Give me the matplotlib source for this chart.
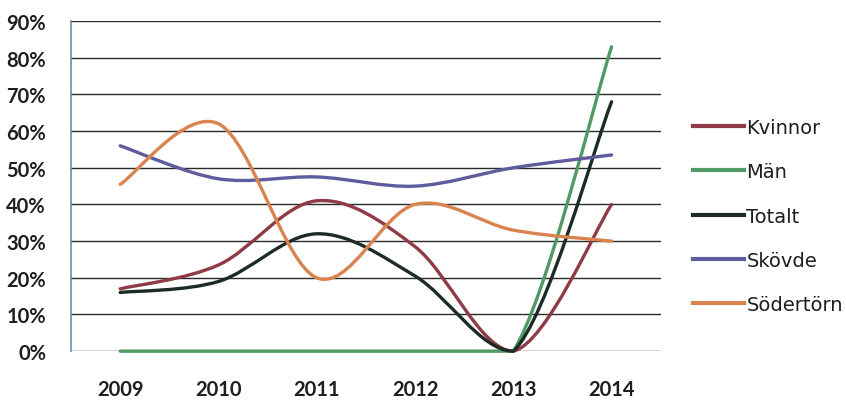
import matplotlib
matplotlib.use("Agg")
import matplotlib.pyplot as plt
from matplotlib.path import Path
from matplotlib.patches import PathPatch
from matplotlib.lines import Line2D
from matplotlib.ticker import FuncFormatter

years = ["2009", "2010", "2011", "2012", "2013", "2014"]

kvinnor   = [0.17, 0.235, 0.41, 0.285, 0.0, 0.40]
man       = [0.0, 0.0, 0.0, 0.0, 0.0, 0.83]
totalt    = [0.16, 0.19, 0.32, 0.205, 0.0, 0.68]
skovde    = [0.56, 0.47, 0.475, 0.45, 0.50, 0.535]
sodertorn = [0.455, 0.62, 0.20, 0.40, 0.33, 0.30]

series = [
    ("Kvinnor",   kvinnor,   "#8e3b45"),
    ("Män",       man,       "#4f9a66"),
    ("Totalt",    totalt,    "#1c2b26"),
    ("Skövde",    skovde,    "#5e5c9c"),
    ("Södertörn", sodertorn, "#d9834f"),
]

plt.rcParams["font.family"] = ["Lato", "DejaVu Sans"]

Y_MIN = 0.0


def smooth_path(xs, ys):
    # Excel-style smoothed line: cubic Bezier with Catmull-Rom control points,
    # control points kept above the axis floor so curves don't dip below 0%
    n = len(xs)
    verts = [(xs[0], ys[0])]
    codes = [Path.MOVETO]
    for i in range(n - 1):
        x0, y0 = (xs[i - 1], ys[i - 1]) if i > 0 else (xs[i], ys[i])
        x3, y3 = (xs[i + 2], ys[i + 2]) if i + 2 < n else (xs[i + 1], ys[i + 1])
        c1 = (xs[i] + (xs[i + 1] - x0) / 6,
              max(Y_MIN, ys[i] + (ys[i + 1] - y0) / 6))
        c2 = (xs[i + 1] - (x3 - xs[i]) / 6,
              max(Y_MIN, ys[i + 1] - (y3 - ys[i]) / 6))
        verts += [c1, c2, (xs[i + 1], ys[i + 1])]
        codes += [Path.CURVE4] * 3
    return Path(verts, codes)


fig = plt.figure(figsize=(8.46, 4.02), dpi=100)
ax = fig.add_axes([0.084, 0.124, 0.697, 0.821])

xs = list(range(len(years)))
handles = []
for name, vals, color in series:
    patch = PathPatch(smooth_path(xs, vals), facecolor="none", edgecolor=color,
                      lw=2.4, capstyle="round", zorder=3, clip_on=False)
    ax.add_patch(patch)
    handles.append(Line2D([], [], color=color, lw=3, label=name))

ax.set_xlim(-0.5, len(years) - 0.5)
ax.set_ylim(Y_MIN, 0.9)
ax.set_yticks([i / 10 for i in range(10)])
ax.yaxis.set_major_formatter(FuncFormatter(lambda v, _: f"{v * 100:.0f}%"))
ax.set_xticks(xs)
ax.set_xticklabels(years)

ax.grid(axis="y", color="#2a2a2a", lw=1)
ax.set_axisbelow(True)
for s in ["top", "right", "bottom"]:
    ax.spines[s].set_visible(False)
ax.spines["left"].set_color("#6f8ea0")
ax.spines["left"].set_linewidth(1.2)

ax.tick_params(axis="both", length=0, labelsize=14.5, colors="#1e1e1e")
ax.tick_params(axis="y", pad=18)
ax.tick_params(axis="x", pad=20)
for lbl in ax.get_xticklabels() + ax.get_yticklabels():
    lbl.set_fontweight("bold")

leg = fig.legend(handles=handles, loc="center left", bbox_to_anchor=(0.799, 0.46),
                 frameon=False, handlelength=2.6, handletextpad=0.12,
                 labelspacing=1.3, prop={"family": "DejaVu Sans", "size": 14})
for t in leg.get_texts():
    t.set_color("#1e1e1e")

fig.savefig("out.png", dpi=100)
